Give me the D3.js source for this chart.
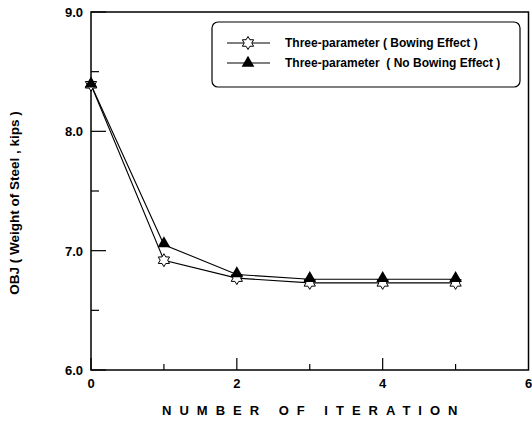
<!DOCTYPE html>
<html>
<head>
<meta charset="utf-8">
<script src="https://cdn.jsdelivr.net/npm/d3@7"></script>
<style>
  body { margin: 0; background: #fff; }
  text { font-family: Arial, "Liberation Sans", sans-serif; font-weight: bold; fill: #000; white-space: pre; }
</style>
</head>
<body>
<div id="chart"></div>
<script>
const iterations = [0, 1, 2, 3, 4, 5];
const bowing = [8.39, 6.92, 6.77, 6.73, 6.73, 6.73];
const noBowing = [8.39, 7.05, 6.80, 6.76, 6.76, 6.76];
const seriesNames = ["Three-parameter ( Bowing Effect )", "Three-parameter  ( No Bowing Effect )"];
const xTicks = [0, 2, 4, 6];
const yTicks = [6, 7, 8, 9];

const width = 532, height = 423;
const margin = {top: 12, right: 3, bottom: 53, left: 91};

const svg = d3.select("#chart").append("svg")
  .attr("width", width).attr("height", height);

const x = d3.scaleLinear().domain([0, 6]).range([margin.left, width - margin.right - 0.5]);
const y = d3.scaleLinear().domain([6, 9]).range([height - margin.bottom, margin.top]);

// frame
svg.append("rect")
  .attr("x", x(0)).attr("y", y(9))
  .attr("width", x(6) - x(0)).attr("height", y(6) - y(9))
  .attr("fill", "none").attr("stroke", "#000").attr("stroke-width", 1.5);

// ticks inward
const yMinor = [6.5, 7.5, 8.5];
svg.append("g").selectAll("line").data(yTicks.concat(yMinor)).join("line")
  .attr("x1", x(0)).attr("x2", d => x(0) + (yMinor.includes(d) ? 8 : 15))
  .attr("y1", d => y(d)).attr("y2", d => y(d))
  .attr("stroke", "#000").attr("stroke-width", 1.2);

const xMinor = [1, 3, 5];
svg.append("g").selectAll("line").data([0, 2, 4].concat(xMinor)).join("line")
  .attr("x1", d => x(d)).attr("x2", d => x(d))
  .attr("y1", y(6)).attr("y2", d => y(6) - (xMinor.includes(d) ? 6 : 12))
  .attr("stroke", "#000").attr("stroke-width", 1.2);

// tick labels
svg.append("g").selectAll("text").data(yTicks).join("text")
  .attr("x", x(0) - 8).attr("y", d => y(d) + 5)
  .attr("text-anchor", "end").attr("font-size", 13)
  .text(d => d.toFixed(1));

svg.append("g").selectAll("text").data(xTicks).join("text")
  .attr("x", d => x(d)).attr("y", y(6) + 18)
  .attr("text-anchor", "middle").attr("font-size", 13)
  .text(d => d);

// axis titles
svg.append("text")
  .attr("x", x(3) + 4).attr("y", 415)
  .attr("text-anchor", "middle").attr("font-size", 13)
  .attr("letter-spacing", "8px")
  .text("NUMBER OF ITERATION");

svg.append("text")
  .attr("transform", `translate(19,${y(7.4)}) rotate(-90)`)
  .attr("text-anchor", "middle").attr("font-size", 13.5)
  .text("OBJ ( Weight of Steel , kips )");

// lines
const line = d3.line().x((d, i) => x(iterations[i])).y(d => y(d));
[bowing, noBowing].forEach(s => {
  svg.append("path").datum(s)
    .attr("d", line).attr("fill", "none")
    .attr("stroke", "#000").attr("stroke-width", 1.1);
});

// markers
const star = d3.symbol().type({
  draw(ctx, size) {
    const r = Math.sqrt(size) * 0.62, ri = r * 0.58;
    for (let i = 0; i < 12; i++) {
      const a = -Math.PI / 2 + i * Math.PI / 6;
      const rr = i % 2 ? ri : r;
      i ? ctx.lineTo(rr * Math.cos(a), rr * Math.sin(a)) : ctx.moveTo(rr * Math.cos(a), rr * Math.sin(a));
    }
    ctx.closePath();
  }
}).size(110);
const tri = d3.symbol().type(d3.symbolTriangle).size(70);

svg.append("g").selectAll("path").data(bowing).join("path")
  .attr("transform", (d, i) => `translate(${x(iterations[i])},${y(d)})`)
  .attr("d", star).attr("fill", "#fff").attr("stroke", "#000").attr("stroke-width", 1);

svg.append("g").selectAll("path").data(noBowing).join("path")
  .attr("transform", (d, i) => `translate(${x(iterations[i])},${y(d) - 1})`)
  .attr("d", tri).attr("fill", "#000");

// legend
const lg = svg.append("g");
lg.append("rect")
  .attr("x", 212).attr("y", 22).attr("width", 308).attr("height", 65)
  .attr("rx", 6).attr("fill", "#fff").attr("stroke", "#000").attr("stroke-width", 1.2);
const rows = [43, 63];
rows.forEach((ry, i) => {
  lg.append("line").attr("x1", 227).attr("x2", 270).attr("y1", ry).attr("y2", ry)
    .attr("stroke", "#000").attr("stroke-width", 1);
  lg.append("path").attr("transform", `translate(248,${ry})`)
    .attr("d", i === 0 ? star : tri)
    .attr("fill", i === 0 ? "#fff" : "#000").attr("stroke", i === 0 ? "#000" : "none");
  lg.append("text").attr("x", 285).attr("y", ry + 4).attr("font-size", 12)
    .text(seriesNames[i]);
});
</script>
</body>
</html>
